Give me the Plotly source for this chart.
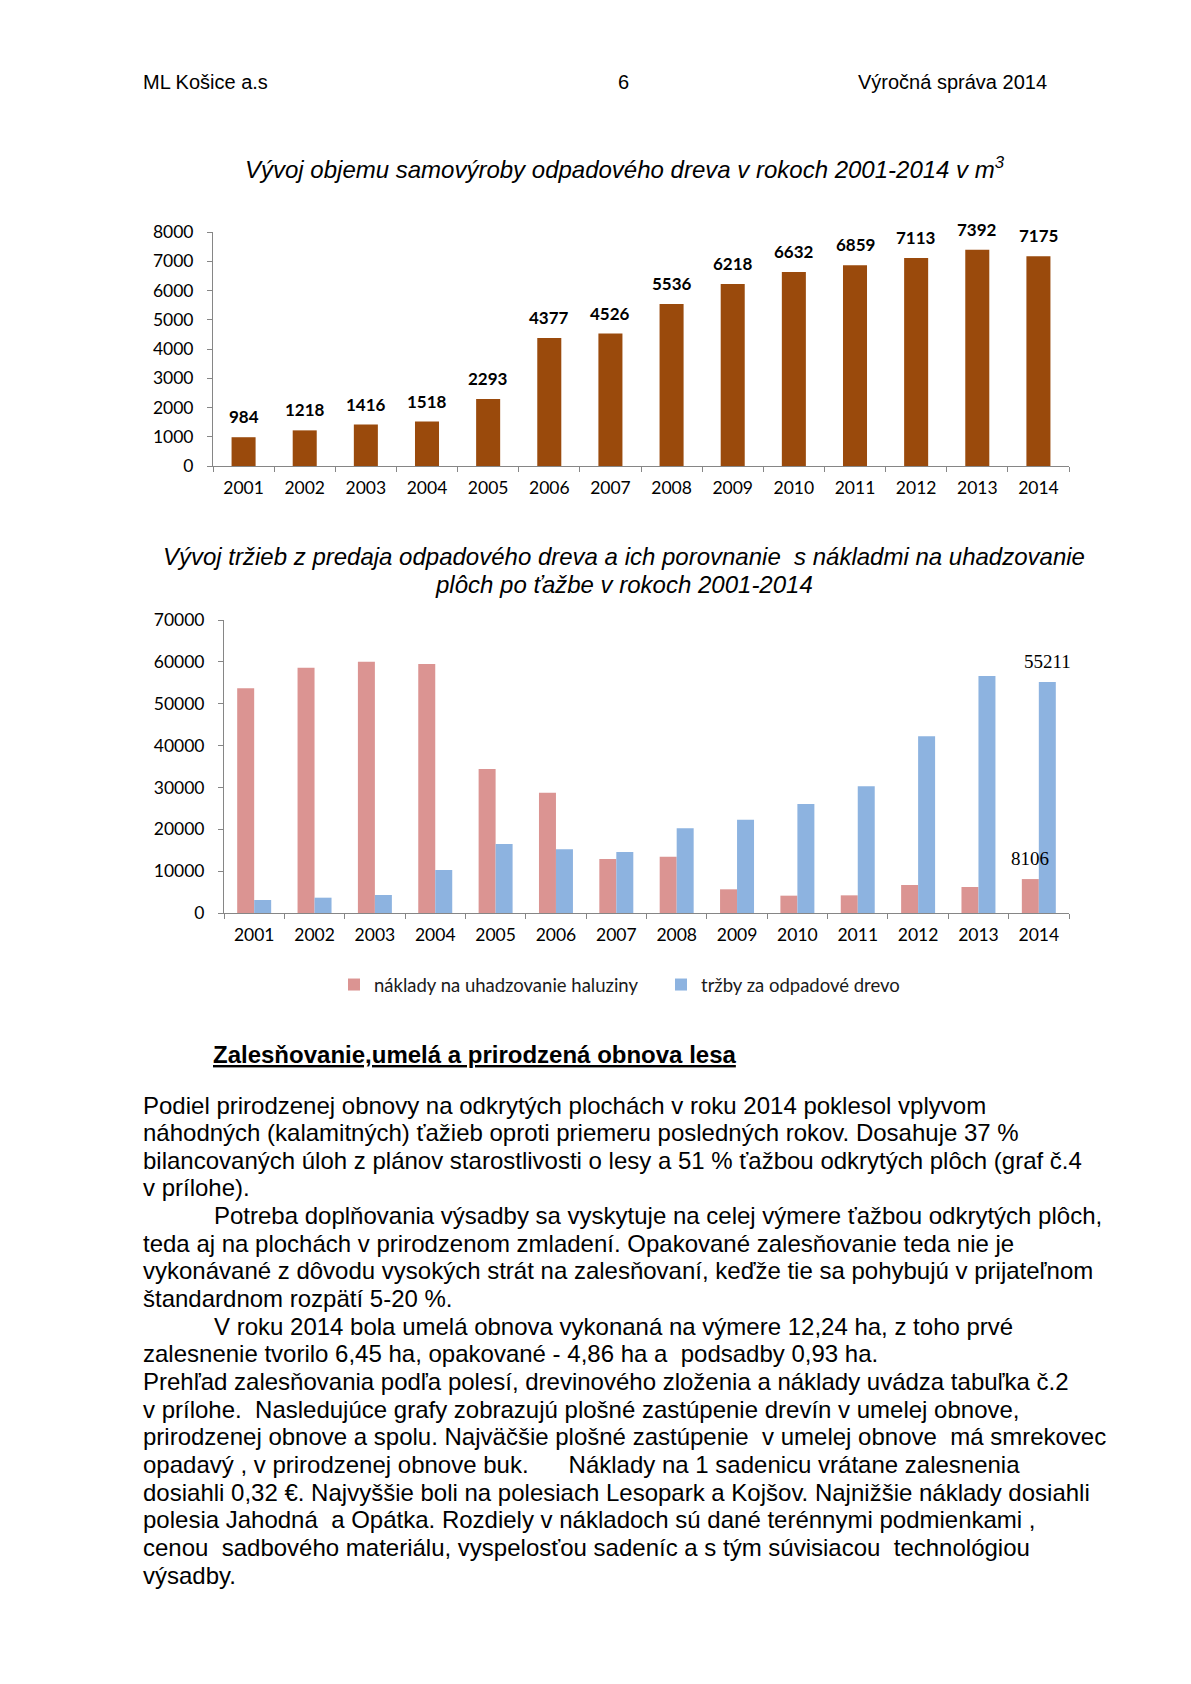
import plotly.graph_objects as go

W, H = 1191, 1684

# ---------------- data ----------------
years = [str(y) for y in range(2001, 2015)]
volume_m3 = [984, 1218, 1416, 1518, 2293, 4377, 4526, 5536, 6218, 6632, 6859, 7113, 7392, 7175]

costs_haluzina = [53700, 58600, 60000, 59500, 34400, 28700, 12900, 13450, 5660, 4140, 4220, 6690, 6210, 8106]
revenue_drevo = [3100, 3660, 4300, 10270, 16480, 15210, 14570, 20230, 22290, 26040, 30270, 42210, 56620, 55211]
costs_labels = [""] * 13 + ["8106"]
revenue_labels = [""] * 13 + ["55211"]

y1_ticks = list(range(0, 8001, 1000))
y2_ticks = list(range(0, 70001, 10000))

name_costs = "náklady na uhadzovanie haluziny"
name_revenue = "tržby za odpadové drevo"

title1 = "Vývoj objemu samovýroby odpadového dreva v rokoch 2001-2014 v m<sup>3</sup>"
title2_l1 = "Vývoj tržieb z predaja odpadového dreva a ich porovnanie \u00a0s nákladmi na uhadzovanie"
title2_l2 = "plôch po ťažbe v rokoch 2001-2014"

header_left = "ML Košice a.s"
header_mid = "6"
header_right = "Výročná správa 2014"
heading = "Zalesňovanie,umelá a prirodzená obnova lesa"

body_lines = [
    (0, "Podiel prirodzenej obnovy na odkrytých plochách v roku 2014 poklesol vplyvom"),
    (0, "náhodných (kalamitných) ťažieb oproti priemeru posledných rokov. Dosahuje 37 %"),
    (0, "bilancovaných úloh z plánov starostlivosti o lesy a 51 % ťažbou odkrytých plôch (graf č.4"),
    (0, "v prílohe)."),
    (1, "Potreba doplňovania výsadby sa vyskytuje na celej výmere ťažbou odkrytých plôch,"),
    (0, "teda aj na plochách v prirodzenom zmladení. Opakované zalesňovanie teda nie je"),
    (0, "vykonávané z dôvodu vysokých strát na zalesňovaní, keďže tie sa pohybujú v prijateľnom"),
    (0, "štandardnom rozpätí 5-20 %."),
    (1, "V roku 2014 bola umelá obnova vykonaná na výmere 12,24 ha, z toho prvé"),
    (0, "zalesnenie tvorilo 6,45 ha, opakované - 4,86 ha a \u00a0podsadby 0,93 ha."),
    (0, "Prehľad zalesňovania podľa polesí, drevinového zloženia a náklady uvádza tabuľka č.2"),
    (0, "v prílohe. \u00a0Nasledujúce grafy zobrazujú plošné zastúpenie drevín v umelej obnove,"),
    (0, "prirodzenej obnove a spolu. Najväčšie plošné zastúpenie \u00a0v umelej obnove \u00a0má smrekovec"),
    (0, "opadavý , v prirodzenej obnove buk. \u00a0\u00a0\u00a0\u00a0\u00a0Náklady na 1 sadenicu vrátane zalesnenia"),
    (0, "dosiahli 0,32 €. Najvyššie boli na polesiach Lesopark a Kojšov. Najnižšie náklady dosiahli"),
    (0, "polesia Jahodná \u00a0a Opátka. Rozdiely v nákladoch sú dané terénnymi podmienkami ,"),
    (0, "cenou \u00a0sadbového materiálu, vyspelosťou sadeníc a s tým súvisiacou \u00a0technológiou"),
    (0, "výsadby."),
]

# ---------------- styles ----------------
BROWN = "#9A4A0C"
RED = "#DB9492"
BLUE = "#8DB3E0"
AXIS = "#868686"
CHART_FONT = "Lato"
DOC_FONT = "Liberation Sans"
BARGAP2 = 0.437


def px(x):
    return x / W


def py(y):
    return 1 - y / H


fig = go.Figure()

fig.add_trace(go.Bar(x=years, y=volume_m3, marker=dict(color=BROWN, line=dict(width=0)),
                     width=0.393, showlegend=False, xaxis="x", yaxis="y", hoverinfo="x+y"))

fig.add_trace(go.Bar(x=years, y=costs_haluzina, name=name_costs,
                     marker=dict(color=RED, line=dict(width=0)), xaxis="x2", yaxis="y2"))
fig.add_trace(go.Bar(x=years, y=revenue_drevo, name=name_revenue,
                     marker=dict(color=BLUE, line=dict(width=0)), xaxis="x2", yaxis="y2"))

annotations = []

# data labels chart 1 (category axis -> annotation x given as category index)
for i, v in enumerate(volume_m3):
    annotations.append(dict(x=i, y=v, xref="x", yref="y", text=f"<b>{v}</b>",
                            showarrow=False, yanchor="bottom", yshift=8,
                            font=dict(family=CHART_FONT, size=17, color="#000")))

# data labels chart 2
off = (1 - BARGAP2) / 4
for i, (lab_c, lab_r) in enumerate(zip(costs_labels, revenue_labels)):
    if lab_c:
        annotations.append(dict(x=i - off, y=costs_haluzina[i], xref="x2", yref="y2", text=lab_c,
                                showarrow=False, yanchor="bottom", yshift=8,
                                font=dict(family="Liberation Serif", size=19, color="#000")))
    if lab_r:
        annotations.append(dict(x=i + off, y=revenue_drevo[i], xref="x2", yref="y2", text=lab_r,
                                showarrow=False, yanchor="bottom", yshift=8,
                                font=dict(family="Liberation Serif", size=19, color="#000")))

# header
hdr_font = dict(family=DOC_FONT, size=20, color="#000")
annotations += [
    dict(x=px(141), y=py(82), xref="paper", yref="paper", text=header_left, showarrow=False,
         xanchor="left", yanchor="middle", font=hdr_font),
    dict(x=px(623), y=py(82), xref="paper", yref="paper", text=header_mid, showarrow=False,
         xanchor="center", yanchor="middle", font=hdr_font),
    dict(x=px(1049), y=py(82), xref="paper", yref="paper", text=header_right, showarrow=False,
         xanchor="right", yanchor="middle", font=hdr_font),
]

# chart titles
ttl_font = dict(family=DOC_FONT, size=24, color="#000")
annotations += [
    dict(x=px(625), y=py(168), xref="paper", yref="paper", text=f"<i>{title1}</i>", showarrow=False,
         xanchor="center", yanchor="middle", font=ttl_font),
    dict(x=px(624), y=py(556), xref="paper", yref="paper", text=f"<i>{title2_l1}</i>", showarrow=False,
         xanchor="center", yanchor="middle", font=ttl_font),
    dict(x=px(624), y=py(584), xref="paper", yref="paper", text=f"<i>{title2_l2}</i>", showarrow=False,
         xanchor="center", yanchor="middle", font=ttl_font),
]

# heading + body text
body_font = dict(family=DOC_FONT, size=24, color="#000")
annotations.append(dict(x=px(211), y=py(1054), xref="paper", yref="paper",
                        text=f"<b><span style='text-decoration:underline'>{heading}</span></b>",
                        showarrow=False, xanchor="left", yanchor="middle", font=body_font))
for i, (indent, line) in enumerate(body_lines):
    annotations.append(dict(x=px(212 if indent else 141), y=py(1105 + i * 27.65), xref="paper", yref="paper",
                            text=line, showarrow=False, xanchor="left", yanchor="middle", font=body_font))

axis_common = dict(showline=True, linecolor=AXIS, linewidth=1, ticks="outside", ticklen=5,
                   tickcolor=AXIS, showgrid=False, zeroline=False, automargin=False,
                   tickfont=dict(family=CHART_FONT, size=17.5, color="#000"))

fig.update_layout(
    width=W, height=H,
    margin=dict(l=0, r=0, t=0, b=0, pad=0, autoexpand=False),
    paper_bgcolor="white", plot_bgcolor="white",
    barmode="group", bargap=BARGAP2, bargroupgap=0,
    xaxis=dict(domain=[px(213), px(1069)], anchor="y", type="category", tickson="boundaries",
               range=[-0.5, 13.5], ticklabelstandoff=6, **axis_common),
    yaxis=dict(domain=[py(466), py(232)], anchor="x", range=[0, 8000], tickvals=y1_ticks,
               tickformat="d", ticklabelstandoff=10, **axis_common),
    xaxis2=dict(domain=[px(224), px(1069)], anchor="y2", type="category", tickson="boundaries",
                range=[-0.5, 13.5], ticklabelstandoff=6, **axis_common),
    yaxis2=dict(domain=[py(913), py(620)], anchor="x2", range=[0, 70000], tickvals=y2_ticks,
                tickformat="d", ticklabelstandoff=10, **axis_common),
    legend=dict(orientation="h", x=px(334), y=py(985), xanchor="left", yanchor="middle",
                entrywidth=282, entrywidthmode="pixels", traceorder="normal", itemwidth=30,
                font=dict(family=CHART_FONT, size=18.5, color="#1a1a1a"), bgcolor="rgba(0,0,0,0)"),
    annotations=annotations,
)

fig.write_html("out.html", config={"displayModeBar": False},
               post_script="document.body.style.margin='0';")
